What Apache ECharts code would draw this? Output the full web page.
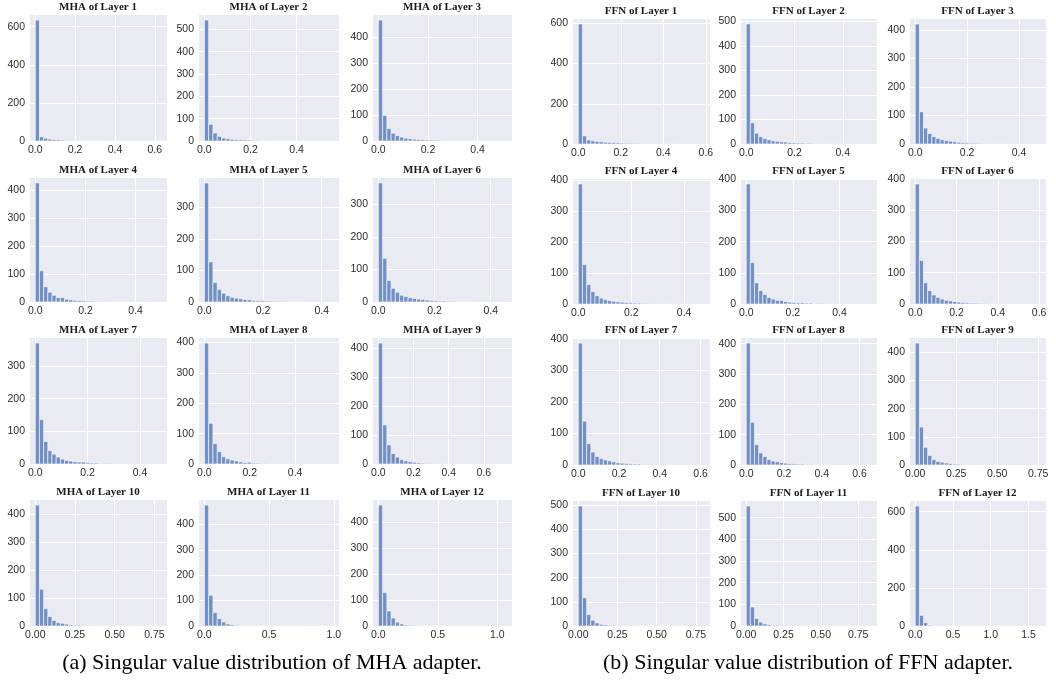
<!DOCTYPE html>
<html>
<head>
<meta charset="utf-8">
<script src="https://cdn.jsdelivr.net/npm/echarts@6/dist/echarts.min.js"></script>
<style>html,body{margin:0;padding:0;background:#fff}#c{width:1060px;height:681px}</style>
</head>
<body>
<div id="c"></div>
<script>
// ---- data ----
const mhaTitles = ["MHA of Layer 1","MHA of Layer 2","MHA of Layer 3","MHA of Layer 4","MHA of Layer 5","MHA of Layer 6","MHA of Layer 7","MHA of Layer 8","MHA of Layer 9","MHA of Layer 10","MHA of Layer 11","MHA of Layer 12"];
const ffnTitles = ["FFN of Layer 1","FFN of Layer 2","FFN of Layer 3","FFN of Layer 4","FFN of Layer 5","FFN of Layer 6","FFN of Layer 7","FFN of Layer 8","FFN of Layer 9","FFN of Layer 10","FFN of Layer 11","FFN of Layer 12"];
// largest singular value (upper edge of histogram range); lower edge is 0
const mhaMaxValue = [0.63,0.556,0.513,0.50,0.437,0.453,0.479,0.565,0.724,0.79,0.99,1.07];
const ffnMaxValue = [0.59,0.516,0.48,0.474,0.534,0.603,0.616,0.66,0.76,0.80,0.835,1.65];
const mhaXTickStep = [0.2,0.2,0.2,0.2,0.2,0.2,0.2,0.2,0.2,0.25,0.5,0.5];
const ffnXTickStep = [0.2,0.2,0.2,0.2,0.2,0.2,0.2,0.2,0.25,0.25,0.25,0.5];
const mhaYTickStep = [200,100,100,100,100,100,100,100,100,100,100,100];
const ffnYTickStep = [200,100,100,100,100,100,100,100,100,100,100,200];
// bin counts (30 equal-width bins each)
const mhaCounts = [
 [635,22,15,10,8,6,5,3,3,2,2,1,1,1,1,1,0,1,0,0,1,0,0,0,0,0,0,0,0,1],
 [542,75,36,21,13,10,8,7,6,5,4,3,3,2,2,2,1,2,1,1,1,0,0,1,0,0,0,0,0,1],
 [467,99,48,30,21,15,11,9,7,6,5,4,4,3,3,2,2,2,1,1,1,1,1,0,1,0,0,0,0,1],
 [426,112,55,35,24,16,16,10,8,6,5,4,3,3,2,2,2,1,1,1,1,1,0,0,1,0,0,0,0,1],
 [377,127,62,40,28,20,15,12,10,8,7,5,4,4,3,3,2,2,2,1,1,1,1,1,0,0,1,0,0,1],
 [365,134,66,42,30,21,17,13,11,9,8,6,5,4,3,3,2,2,1,1,1,1,1,0,1,0,0,0,0,1],
 [370,136,69,41,30,21,15,11,9,7,6,6,4,3,3,2,2,2,1,1,1,1,1,1,0,0,1,0,0,1],
 [398,134,67,41,24,17,13,10,7,5,6,3,3,2,2,1,1,1,1,1,0,1,0,0,0,0,0,0,0,1],
 [418,135,66,36,24,15,11,8,6,4,3,2,2,1,1,1,1,1,0,1,0,0,0,0,0,0,0,0,0,1],
 [434,132,62,34,20,12,10,7,4,3,3,2,2,1,2,1,1,1,1,0,1,0,1,0,0,0,0,0,0,1],
 [476,121,53,29,16,8,5,3,2,2,1,2,1,1,1,1,1,1,1,0,1,0,1,0,0,0,0,0,0,1],
 [467,129,58,31,15,8,4,3,2,1,1,1,1,1,1,1,2,1,1,1,1,1,1,1,0,1,0,0,0,1]
];
const ffnCounts = [
 [597,40,20,16,13,11,9,8,7,6,5,4,4,3,3,3,2,2,2,1,1,1,1,1,0,1,0,0,0,1],
 [490,87,44,30,22,17,13,11,9,8,6,5,4,4,3,3,2,2,2,1,1,1,1,1,0,1,0,0,0,1],
 [421,113,56,37,26,20,15,12,10,8,6,5,4,3,3,2,2,2,1,1,1,1,1,0,1,0,0,0,0,1],
 [389,128,63,40,27,19,14,11,9,7,6,5,4,3,3,2,2,2,1,1,1,1,1,1,0,1,0,0,0,1],
 [385,133,68,43,31,21,16,12,11,8,6,5,4,4,3,3,2,2,2,1,1,1,1,1,0,1,0,0,0,1],
 [383,139,68,43,29,21,16,12,10,8,6,5,4,3,3,2,2,2,1,1,1,1,1,0,1,0,0,0,0,1],
 [386,139,68,41,27,20,16,13,10,7,6,5,4,3,3,2,2,2,1,1,1,1,1,1,0,1,0,0,0,1],
 [402,141,67,40,28,18,13,11,8,6,5,4,3,3,2,2,1,1,1,1,1,0,1,0,0,0,0,0,0,1],
 [433,135,63,34,19,13,10,7,5,3,3,2,2,1,1,1,1,1,0,1,0,0,0,0,0,0,0,0,0,1],
 [497,117,48,24,13,7,5,3,3,2,2,2,2,1,1,1,1,1,1,1,1,2,1,0,1,0,0,0,0,1],
 [554,88,35,18,10,6,4,3,3,2,2,2,2,1,1,1,1,1,1,1,1,1,0,1,0,0,0,0,0,1],
 [630,56,18,5,2,1,1,1,1,2,3,2,2,1,2,2,1,1,1,1,1,0,1,0,0,1,0,0,0,1]
];
const captions = ["(a) Singular value distribution of MHA adapter.","(b) Singular value distribution of FFN adapter."];

// ---- layout (pixels) ----
const groups = [
  {titles: mhaTitles, hi: mhaMaxValue, xs: mhaXTickStep, ys: mhaYTickStep, counts: mhaCounts,
   lefts:[29,198,372], rights:[167,339,512], tops:[14,177,337,499], bottoms:[141,302,464,626]},
  {titles: ffnTitles, hi: ffnMaxValue, xs: ffnXTickStep, ys: ffnYTickStep, counts: ffnCounts,
   lefts:[572,740,909], rights:[710,877,1046], tops:[18,178,337,500], bottoms:[144,304,465,626]}
];

const BAR = '#7290C5';
const grids = [], xAxes = [], yAxes = [], series = [], graphics = [];
const labelStyle = {fontFamily:'Liberation Sans, Arial, sans-serif', fontSize:10.5, color:'#2e2e2e'};

groups.forEach(g => {
  for (let k = 0; k < 12; k++) {
    const r = Math.floor(k/3), c = k%3;
    const idx = grids.length;
    const left = g.lefts[c], right = g.rights[c], top = g.tops[r], bottom = g.bottoms[r];
    grids.push({left:left, top:top, width:right-left, height:bottom-top, show:true,
      backgroundColor:'#EAEAF2', borderWidth:0, containLabel:false});
    const hi = g.hi[k], step = g.xs[k];
    const dec = step === 0.25 ? 2 : 1;
    xAxes.push({type:'value', gridIndex:idx, min:-0.05*hi, max:1.05*hi,
      minInterval:step, maxInterval:step, splitNumber:4,
      axisLine:{show:false}, axisTick:{show:false},
      splitLine:{show:true, lineStyle:{color:'#ffffff', width:1}},
      axisLabel:Object.assign({showMinLabel:false, showMaxLabel:false, margin:4,
        formatter: v => v.toFixed(dec)}, labelStyle)});
    const cnt = g.counts[k];
    const ymax = Math.max.apply(null, cnt) * 1.05;
    yAxes.push({type:'value', gridIndex:idx, min:0, max:ymax, interval:g.ys[k],
      axisLine:{show:false}, axisTick:{show:false},
      splitLine:{show:true, lineStyle:{color:'#ffffff', width:1}},
      axisLabel:Object.assign({showMaxLabel:false, margin:4}, labelStyle)});
    const n = cnt.length, w = hi / n;
    const data = cnt.map((v, i) => [i*w, (i+1)*w, v]);
    series.push({type:'custom', xAxisIndex:idx, yAxisIndex:idx, data:data, silent:true,
      encode:{x:[0,1], y:2},
      renderItem:function(params, api){
        const c0 = api.value(2);
        if (!c0) return null;
        const p0 = api.coord([api.value(0), c0]);
        const p1 = api.coord([api.value(1), 0]);
        return {type:'rect', shape:{x:p0[0], y:p0[1], width:p1[0]-p0[0], height:p1[1]-p0[1]},
          style:{fill:BAR, stroke:'#ffffff', lineWidth:0.6}};
      }});
    graphics.push({type:'text', x:(left+right)/2, y:top-6.5, silent:true,
      style:{text:g.titles[k], fill:'#1a1a1a', font:'bold 11px "Liberation Serif", "Times New Roman", serif',
        align:'center', verticalAlign:'middle'}});
  }
});

graphics.push({type:'text', x:272, y:663, silent:true,
  style:{text:captions[0], fill:'#000', font:'22px "Liberation Serif", "Times New Roman", serif', align:'center', verticalAlign:'middle'}});
graphics.push({type:'text', x:808, y:663, silent:true,
  style:{text:captions[1], fill:'#000', font:'22px "Liberation Serif", "Times New Roman", serif', align:'center', verticalAlign:'middle'}});

const chart = echarts.init(document.getElementById('c'), null, {renderer:'canvas'});
chart.setOption({animation:false, backgroundColor:'#ffffff', grid:grids, xAxis:xAxes, yAxis:yAxes, series:series, graphic:graphics});
</script>
</body>
</html>
